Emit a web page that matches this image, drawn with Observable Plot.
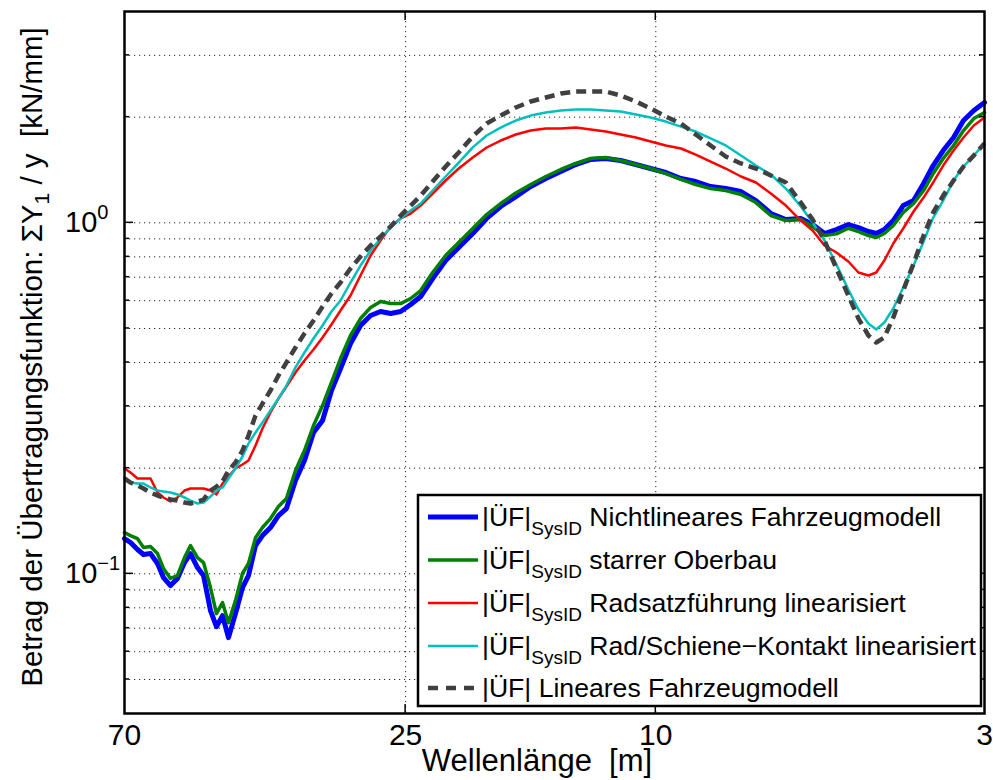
<!DOCTYPE html>
<html><head><meta charset="utf-8">
<script src="https://cdn.jsdelivr.net/npm/d3@7"></script>
<script src="https://cdn.jsdelivr.net/npm/@observablehq/plot@0.6"></script>
<style>
body{margin:0;background:#fff}
svg{font-family:"Liberation Sans",Arial,Helvetica,sans-serif}
</style>
</head><body><div id="chart"></div>
<script>
// Wellenlänge [m]
const wavelength = [70,68.48,66.74,65.3,63.64,62.03,60.69,59.15,57.65,56.19,54.97,53.58,52.41,51.09,49.98,48.89,47.83,46.62,45.44,44.45,43.32,42.23,41.01,39.83,38.68,37.42,36.21,35.03,33.89,32.8,31.73,30.59,29.49,28.42,27.4,26.41,25.46,24.54,23.66,22.64,21.59,20.58,19.55,18.58,17.65,16.7,15.81,14.96,14.16,13.41,12.69,12.01,11.37,10.76,10.19,9.64,9.12,8.64,8.18,7.74,7.32,6.93,6.56,6.21,5.88,5.63,5.39,5.16,4.94,4.76,4.59,4.46,4.33,4.19,4.04,3.89,3.75,3.62,3.49,3.36,3.24,3.12,3];

// |ÜF| values [kN/mm]
const nichtlinear = [0.126,0.1228,0.1173,0.1135,0.1142,0.107,0.0976,0.0926,0.097,0.1077,
 0.1142,0.1042,0.0989,0.0786,0.0707,0.076,0.0658,0.077,0.0914,0.0989,
 0.1204,0.1285,0.1355,0.1466,0.1535,0.1844,0.2103,0.2527,0.2734,0.3328,
 0.3845,0.4531,0.5098,0.5444,0.5589,0.5516,0.5589,0.5851,0.6167,0.694,
 0.7809,0.8505,0.9323,1.029,1.113,1.188,1.269,1.337,1.4,1.466,
 1.515,1.525,1.505,1.466,1.428,1.391,1.337,1.311,1.269,1.252,
 1.228,1.157,1.063,1.022,1.029,0.9889,0.9323,0.957,0.9889,0.9693,
 0.9445,0.9323,0.957,1.015,1.12,1.157,1.294,1.456,1.607,1.75,
 1.956,2.089,2.202];

const starrerOberbau = [0.1311,0.1285,0.126,0.1188,0.1196,0.1142,0.1036,0.097,0.0989,0.1112,
 0.1204,0.1112,0.1077,0.0914,0.077,0.0828,0.0726,0.0839,0.1002,0.107,
 0.1268,0.1355,0.1437,0.1555,0.1639,0.1969,0.2245,0.2645,0.3016,0.3508,
 0.4106,0.4775,0.5338,0.5737,0.5966,0.5887,0.5887,0.6087,0.6414,0.7218,
 0.807,0.8789,0.9633,1.056,1.135,1.216,1.286,1.355,1.419,1.476,
 1.525,1.535,1.505,1.466,1.428,1.382,1.329,1.286,1.252,1.236,
 1.204,1.142,1.049,1.015,1.022,0.975,0.92,0.93,0.965,0.9445,
 0.9201,0.9084,0.9323,0.9824,1.07,1.135,1.236,1.382,1.525,1.661,
 1.832,1.982,2.062];

const radsatzLinear = [0.1996,0.1944,0.1869,0.1869,0.1869,0.1705,0.165,0.1607,0.165,0.1727,
 0.175,0.175,0.175,0.1727,0.1683,0.1808,0.1894,0.1996,0.2049,0.2103,
 0.232,0.2594,0.2882,0.3158,0.3417,0.3746,0.4052,0.4355,0.4714,0.5132,
 0.5626,0.6207,0.7077,0.807,0.8904,0.976,1.029,1.063,1.12,1.212,
 1.32,1.428,1.535,1.639,1.716,1.785,1.832,1.856,1.856,1.868,
 1.844,1.82,1.785,1.75,1.705,1.661,1.628,1.565,1.495,1.428,
 1.355,1.303,1.212,1.12,1.015,0.9508,0.8617,0.8231,0.7759,0.7218,
 0.7077,0.7218,0.7809,0.8732,0.9633,1.077,1.18,1.303,1.456,1.607,
 1.75,1.893,1.995];

const kontaktLinear = [0.1869,0.182,0.1808,0.1808,0.1762,0.1727,0.1716,0.1705,0.1683,0.165,
 0.1617,0.1586,0.1596,0.166,0.1727,0.1762,0.1869,0.1996,0.2159,0.235,
 0.2527,0.2698,0.2919,0.3158,0.3439,0.3873,0.4271,0.4683,0.5098,0.5589,
 0.6007,0.676,0.7557,0.8339,0.9022,0.9696,1.029,1.084,1.135,1.236,
 1.355,1.485,1.64,1.773,1.868,1.956,2.021,2.062,2.089,2.103,
 2.103,2.089,2.075,2.035,1.995,1.943,1.88,1.82,1.739,1.661,
 1.555,1.456,1.373,1.252,1.113,1.002,0.8904,0.7607,0.6456,0.5664,
 0.5165,0.4967,0.52,0.5701,0.6541,0.7557,0.8846,1.035,1.157,1.32,
 1.447,1.555,1.684];

const linearesModell = [0.1869,0.182,0.1785,0.175,0.1705,0.1671,0.165,0.1628,0.1617,0.1596,
 0.1586,0.1607,0.1628,0.1727,0.1773,0.1832,0.1969,0.2076,0.2245,0.2477,
 0.2825,0.3056,0.3328,0.3673,0.4,0.4414,0.4838,0.5268,0.5775,0.6289,
 0.676,0.7409,0.8017,0.8617,0.9142,0.976,1.049,1.12,1.196,1.311,
 1.447,1.586,1.762,1.918,2.021,2.131,2.217,2.275,2.335,2.366,
 2.366,2.366,2.305,2.217,2.117,2.008,1.918,1.785,1.661,1.545,
 1.476,1.428,1.364,1.303,1.142,1.022,0.8904,0.7409,0.6207,0.5338,
 0.4775,0.4562,0.4712,0.5374,0.6414,0.7656,0.9201,1.07,1.196,1.32,
 1.447,1.555,1.684];

const xTicks = [70, 25, 10, 3];
const xGrid = [25, 10];
const yTicks = [0.1, 1];
const yTickExp = ["\u22121", "0"];
const yGrid = [0.05,0.06,0.07,0.08,0.09,0.1,0.2,0.3,0.4,0.5,0.6,0.7,0.8,0.9,1,2,3];

const legendPrefix = ["|ÜF|","|ÜF|","|ÜF|","|ÜF|","|ÜF|"];
const legendSub = ["SysID","SysID","SysID","SysID",""];
const legendText = ["Nichtlineares Fahrzeugmodell","starrer Oberbau","Radsatzführung linearisiert","Rad/Schiene\u2212Kontakt linearisiert","Lineares Fahrzeugmodell"];

const xLabel = "Wellenlänge  [m]";

const series = [
  {values: nichtlinear, color: "#0000ff", width: 5, dash: null},
  {values: starrerOberbau, color: "#008000", width: 3.5, dash: null},
  {values: radsatzLinear, color: "#ff0000", width: 2.5, dash: null},
  {values: kontaktLinear, color: "#00bfbf", width: 2.5, dash: null},
  {values: linearesModell, color: "#404040", width: 4.5, dash: "10,6"}
];

const font = '"Liberation Sans",Arial,Helvetica,sans-serif';

const plot = Plot.plot({
  width: 993, height: 780,
  marginLeft: 124, marginRight: 9, marginTop: 11, marginBottom: 67,
  style: {fontFamily: font, fontSize: "30px", background: "white", color: "black"},
  x: {type: "log", domain: [70, 3], label: null},
  y: {type: "log", domain: [0.04, 4], label: null, axis: null},
  marks: [
    Plot.gridY(yGrid, {stroke: "#000", strokeOpacity: 0.85, strokeWidth: 1, strokeDasharray: "1.2,3.8"}),
    Plot.gridX(xGrid, {stroke: "#000", strokeOpacity: 0.85, strokeWidth: 1, strokeDasharray: "1.2,3.8"}),
    ...series.map(s => Plot.line(wavelength.map((w, i) => ({w, v: s.values[i]})), {
      x: "w", y: "v", stroke: s.color, strokeWidth: s.width,
      strokeDasharray: s.dash, strokeLinejoin: "round", strokeLinecap: s.dash ? "butt" : "round"
    })),
    Plot.frame({stroke: "#000", strokeWidth: 2.5}),
    Plot.axisX(xTicks, {tickSize: 0, tickPadding: 10, tickFormat: d => String(d), fontSize: 30, label: null})
  ]
});
document.getElementById("chart").appendChild(plot);

const X = plot.scale("x"), Y = plot.scale("y");
const svg = d3.select(plot);
const L = X.apply(70), R = X.apply(3), B = Y.apply(0.04), T = Y.apply(4);

// inward ticks
const tg = svg.append("g").attr("stroke", "#000").attr("stroke-width", 1.5);
for (const v of yGrid) {
  const y = Y.apply(v), len = yTicks.includes(v) ? 9 : 5;
  tg.append("line").attr("x1", L).attr("x2", L + len).attr("y1", y).attr("y2", y);
  tg.append("line").attr("x1", R).attr("x2", R - len).attr("y1", y).attr("y2", y);
}
for (const v of xGrid) {
  const x = X.apply(v);
  tg.append("line").attr("x1", x).attr("x2", x).attr("y1", B).attr("y2", B - 9);
  tg.append("line").attr("x1", x).attr("x2", x).attr("y1", T).attr("y2", T + 9);
}

// y tick labels 10^n
yTicks.forEach((v, i) => {
  const t = svg.append("text").attr("x", 65).attr("y", Y.apply(v) + 10)
    .attr("text-anchor", "start")
    .attr("font-size", 29).attr("font-family", font).attr("fill", "#000");
  t.append("tspan").text("10");
  t.append("tspan").attr("font-size", 20).attr("dy", -13).text(yTickExp[i]);
});

// x axis title
svg.append("text").attr("x", 537).attr("y", 771).attr("text-anchor", "middle")
  .attr("font-size", 31).attr("font-family", font).style("white-space", "pre").text(xLabel);

// y axis title
const yt = svg.append("text").attr("transform", `translate(42,357) rotate(-90)`)
  .attr("text-anchor", "middle").attr("font-size", 29.5).attr("font-family", font).style("white-space", "pre");
yt.append("tspan").text("Betrag der Übertragungsfunktion: \u03A3Y");
yt.append("tspan").attr("font-size", 21).attr("dy", 7).text("1");
yt.append("tspan").attr("dy", -7).text(" / y  [kN/mm]");

// legend
const lg = svg.append("g");
lg.append("rect").attr("x", 418).attr("y", 495).attr("width", 563).attr("height", 211)
  .attr("fill", "#fff").attr("stroke", "#000").attr("stroke-width", 2.5);
const rowY = [517, 560, 603, 646, 688];
series.forEach((s, i) => {
  const y = rowY[i];
  lg.append("line").attr("x1", 428).attr("x2", 478).attr("y1", y).attr("y2", y)
    .attr("stroke", s.color).attr("stroke-width", s.width)
    .attr("stroke-dasharray", s.dash ? "10,8" : null);
  const t = lg.append("text").attr("x", 482).attr("y", y + 9).attr("font-size", 26.6)
    .attr("text-anchor", "start")
    .attr("font-family", font).style("white-space", "pre");
  t.append("tspan").text(legendPrefix[i]);
  if (legendSub[i]) {
    t.append("tspan").attr("font-size", 19).attr("dy", 9).text(legendSub[i]);
    t.append("tspan").attr("dy", -9).text(" " + legendText[i]);
  } else {
    t.append("tspan").text(" " + legendText[i]);
  }
});
</script>
</body></html>
